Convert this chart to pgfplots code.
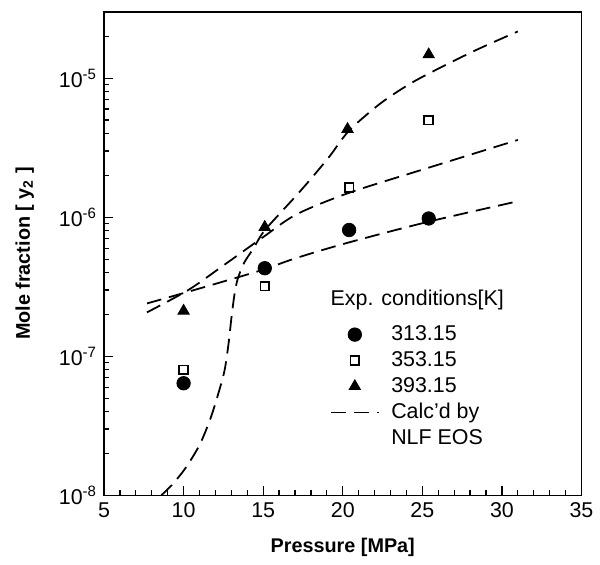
\documentclass[border=0pt]{standalone}
\usepackage{pgfplots}
\pgfplotsset{compat=1.18}
\usepackage{fontspec}
\setmainfont{Liberation Sans}

\begin{document}
\begin{tikzpicture}
\begin{axis}[
  width=241pt, height=244pt, scale only axis,
  xmin=5, xmax=35,
  ymode=log, ymin=1e-8, ymax=3e-5,
  xtick={5,10,...,35}, minor x tick num=4,
  ytick={1e-8,1e-7,1e-6,1e-5},
  yticklabels={10\textsuperscript{-8},10\textsuperscript{-7},10\textsuperscript{-6},10\textsuperscript{-5}},
  minor ytick={2e-8,3e-8,4e-8,5e-8,6e-8,7e-8,8e-8,9e-8,
               2e-7,3e-7,4e-7,5e-7,6e-7,7e-7,8e-7,9e-7,
               2e-6,3e-6,4e-6,5e-6,6e-6,7e-6,8e-6,9e-6,2e-5},
  xtick pos=bottom, ytick pos=left, tick align=inside,
  major tick length=4.5pt, minor tick length=2.5pt,
  /pgf/number format/assume math mode=true,
  ticklabel style={font=\fontsize{10.8}{13}\selectfont},
  axis line style={line width=0.8pt},
  every tick/.style={black, line width=0.6pt},
  xlabel={\textbf{Pressure [MPa]}},
  ylabel={\textbf{Mole fraction [ y\textsubscript{2} ]}},
  label style={font=\fontsize{10}{12}\selectfont},
  xlabel style={at={(axis description cs:0.5,-0.108)}, anchor=center},
  ylabel style={at={(axis description cs:-0.166,0.5)}, anchor=center},
  legend image code/.code={\draw[mark repeat=2,mark phase=2,#1] plot coordinates {(0cm,0cm) (0.42cm,0cm) (0.84cm,0cm)};},
  legend style={draw=none, fill=none, at={(rel axis cs:0.473,0.36)}, anchor=north west,
    font=\fontsize{10.8}{12.5}\selectfont, cells={anchor=west}, inner sep=0pt, row sep=0pt, column sep=4pt},
  legend cell align=left,
]

% experimental points
\addplot[only marks, mark=*, mark size=3.4pt, black] coordinates {
  (10.0, 6.4e-8) (15.1, 4.3e-7) (20.4, 8.1e-7) (25.4, 9.8e-7)
};
\addlegendentry{313.15}

\addplot[only marks, mark=square, mark size=2.2pt, black, mark options={line width=0.9pt}] coordinates {
  (10.0, 8.0e-8) (15.1, 3.2e-7) (20.4, 1.64e-6) (25.4, 5.0e-6)
};
\addlegendentry{353.15}

\addplot[only marks, mark=triangle*, mark size=3.3pt, black] coordinates {
  (10.0, 2.12e-7) (15.1, 8.5e-7) (20.3, 4.3e-6) (25.4, 1.48e-5)
};
\addlegendentry{393.15}

% NLF EOS curves
\addplot[black, line width=0.9pt, dash pattern=on 7.5pt off 4pt, smooth] coordinates {
  (7.7, 2.4e-7) (10.0, 2.85e-7) (12.5, 3.45e-7) (15.0, 4.2e-7) (17.1, 5.1e-7)
  (20.4, 6.6e-7) (25.4, 9.3e-7) (30.7, 1.28e-6)
};
\addlegendentry{Calc'd by}
\addlegendimage{empty legend}
\addlegendentry{NLF EOS}

\addplot[black, line width=0.9pt, dash pattern=on 7.5pt off 4pt, smooth, forget plot] coordinates {
  (7.7, 2.07e-7) (10.3, 3.0e-7) (12.5, 4.5e-7) (15.0, 7.2e-7) (17.1, 1.05e-6)
  (20.4, 1.5e-6) (25.0, 2.2e-6) (31.0, 3.6e-6)
};

\addplot[black, line width=0.9pt, dash pattern=on 7.5pt off 4pt, smooth, forget plot] coordinates {
  (8.6, 1.0e-8) (9.3, 1.2e-8) (10.1, 1.56e-8) (11.0, 2.3e-8) (11.7, 3.6e-8)
  (12.3, 6.0e-8) (12.6, 8.2e-8) (12.85, 1.3e-7) (13.0, 1.87e-7) (13.2, 2.8e-7)
  (13.4, 3.6e-7) (13.8, 4.7e-7) (14.4, 6.0e-7) (15.0, 7.8e-7) (16.0, 1.05e-6)
  (17.1, 1.44e-6) (18.1, 1.95e-6) (19.2, 2.77e-6) (20.4, 4.2e-6) (22.3, 6.5e-6)
  (24.0, 8.8e-6) (25.4, 1.08e-5) (28.3, 1.58e-5) (31.0, 2.17e-5)
};

\node[anchor=west, font=\fontsize{10.8}{13}\selectfont] at (rel axis cs:0.46,0.404) {Exp. conditions[K]};
\end{axis}
\path ([xshift=-52.5pt,yshift=-35pt]current axis.south west) rectangle ([xshift=6.5pt,yshift=6pt]current axis.north east);
\end{tikzpicture}
\end{document}
